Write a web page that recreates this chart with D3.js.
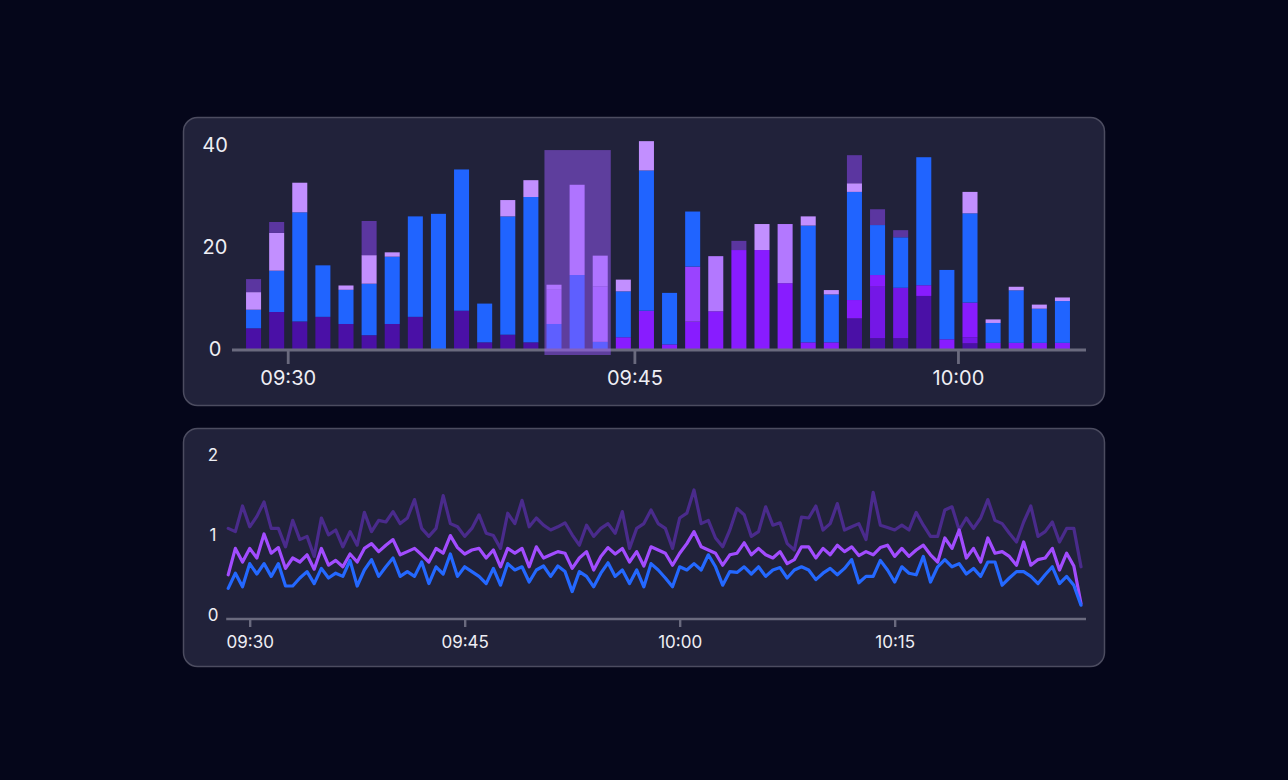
<!DOCTYPE html>
<html>
<head>
<meta charset="utf-8">
<script src="https://cdn.jsdelivr.net/npm/d3@7"></script>
<style>
html, body { margin: 0; background: #05061a; }
svg { display: block; font-family: Inter, "Noto Sans", sans-serif; }
</style>
</head>
<body>
<svg id="chart" width="1288" height="780"></svg>
<script>
// ---- top chart: one bar per minute bucket (09:59 bucket is missing)
const barTimes = ["09:28","09:29","09:30","09:31","09:32","09:33","09:34","09:35","09:36","09:37",
  "09:38","09:39","09:40","09:41","09:42","09:43","09:44","09:45","09:46","09:47",
  "09:48","09:49","09:50","09:51","09:52","09:53","09:54","09:55","09:56","09:57",
  "09:58","10:00","10:01","10:02","10:03","10:04"];
const barTicks = ["09:30", "09:45", "10:00"];

// stacked series, bottom to top
const indigo     = [4.25,7.45,5.6,6.5,5.1,2.9,5.1,6.5,0,7.7,1.5,3.0,1.5,0,0,0,0,0,0,0,0,0,0,0,0,0,6.2,2.3,2.3,10.6,0,1.3,0,0,0,0];
const violetDeep = [0,0,0,0,0,0,0,0,0,0,0,0,0,0,0,0,0,0,0,0,0,0,0,0,0,0,0,10.1,9.9,0,0,1.2,0,0,0,0];
const violet     = [0,0,0,0,0,0,0,0,0,0,0,0,0,0,0,0,2.5,7.7,1.1,5.55,7.6,19.6,19.6,13.1,1.5,1.5,3.6,2.3,0,2.1,2.1,6.8,1.4,1.4,1.4,1.4];
const violetSoft = [0,0,0,0,0,0,0,0,0,0,0,0,0,0,0,0,0,0,0,10.8,0,0,0,0,0,0,0,0,0,0,0,0,0,0,0,0];
const blue       = [3.65,8.1,21.4,10.1,6.7,10.1,13.2,19.7,26.7,27.7,7.6,23.2,28.5,5.1,14.7,1.6,9.0,27.5,10.1,10.8,0,0,0,0,22.9,9.4,21.2,9.8,9.9,25.1,13.6,17.5,3.9,10.3,6.7,8.2];
const lilac      = [0,0,0,0,0,0,0,0,0,0,0,0,0,6.7,0,10.9,0,0,0,0,10.8,0,0,11.6,0,0,0,0,0,0,0,0,0,0,0,0];
const lavender   = [3.45,7.4,5.8,0,0.85,5.6,0.85,0,0,0,0,3.2,3.3,1.0,17.7,6.0,2.3,5.75,0,0,0,0,5.1,0,1.8,0.85,1.7,0,0,0,0,4.2,0.7,0.7,0.8,0.7];
const muted      = [2.55,2.15,0,0,0,6.7,0,0,0,0,0,0,0,0,0,0,0,0,0,0,0,1.8,0,0,0,0,5.5,3.1,1.4,0,0,0,0,0,0,0];

const barSeries = ["indigo","violetDeep","violet","violetSoft","blue","lilac","lavender","muted"];
const barColors = ["#4a10a6","#7417e6","#881cff","#9a43ff","#2064ff","#b378ff","#c28fff","#5b36a0"];
const barYTicks = [0, 20, 40];

// selected range on the top chart
const selFrom = "09:41", selTo = "09:43", selTop = 39.2;

// ---- bottom chart: one point every 30 s from 09:28:30
const blueLine = [0.37,0.56,0.39,0.68,0.55,0.68,0.52,0.68,0.40,0.40,0.50,0.58,0.43,0.62,0.50,0.56,0.52,0.72,0.40,0.60,
  0.73,0.52,0.64,0.75,0.52,0.58,0.52,0.70,0.43,0.64,0.55,0.80,0.52,0.64,0.58,0.52,0.43,0.62,0.41,
  0.68,0.60,0.64,0.45,0.60,0.65,0.52,0.65,0.58,0.33,0.58,0.52,0.39,0.56,0.69,0.52,0.60,0.43,0.60,0.39,0.68,
  0.60,0.50,0.39,0.64,0.60,0.68,0.60,0.79,0.64,0.41,0.58,0.57,0.64,0.55,0.64,0.52,0.60,0.63,0.50,0.60,0.64,
  0.60,0.48,0.56,0.62,0.54,0.62,0.73,0.44,0.52,0.52,0.72,0.60,0.45,0.64,0.56,0.54,0.77,0.45,0.64,0.73,
  0.64,0.68,0.55,0.62,0.52,0.70,0.70,0.41,0.50,0.58,0.58,0.52,0.43,0.54,0.64,0.43,0.52,0.41,0.16];
const violetLine = [0.54,0.87,0.70,0.87,0.75,1.05,0.81,0.88,0.62,0.75,0.70,0.79,0.61,0.87,0.66,0.72,0.64,0.80,0.70,0.87,
  0.93,0.83,0.91,0.98,0.79,0.83,0.87,0.79,0.70,0.87,0.81,1.03,0.88,0.80,0.85,0.87,0.75,0.85,0.64,
  0.87,0.81,0.87,0.64,0.89,0.75,0.79,0.83,0.81,0.62,0.75,0.83,0.60,0.77,0.88,0.80,0.87,0.70,0.83,0.65,0.89,
  0.85,0.81,0.66,0.81,0.93,1.08,0.89,0.85,0.81,0.66,0.79,0.81,0.94,0.79,0.87,0.79,0.75,0.83,0.68,0.73,0.89,
  0.89,0.75,0.87,0.79,0.91,0.83,0.89,0.78,0.83,0.79,0.88,0.91,0.77,0.87,0.77,0.85,0.91,0.79,0.70,1.00,
  0.87,1.10,0.75,0.87,0.70,1.00,0.81,0.83,0.77,0.66,0.95,0.66,0.73,0.75,0.87,0.60,0.81,0.65,0.18];
const purpleLine = [1.12,1.08,1.40,1.14,1.27,1.45,1.12,1.12,0.89,1.22,0.98,1.02,0.77,1.25,1.04,1.10,0.89,1.08,0.91,1.32,
  1.08,1.22,1.20,1.33,1.18,1.25,1.48,1.12,1.02,1.12,1.53,1.18,1.14,1.02,1.12,1.29,1.06,1.03,0.87,
  1.31,1.18,1.47,1.14,1.25,1.16,1.10,1.14,1.19,1.04,0.91,1.16,1.02,1.12,1.18,1.06,1.33,0.87,1.12,1.18,1.35,
  1.18,1.12,0.87,1.25,1.31,1.60,1.18,1.22,1.00,0.89,1.10,1.37,1.29,1.02,1.08,1.39,1.16,1.19,0.93,0.85,1.26,
  1.25,1.40,1.10,1.18,1.43,1.10,1.14,1.18,0.98,1.57,1.16,1.13,1.10,1.16,1.10,1.32,1.16,1.02,1.02,1.35,
  1.39,1.10,1.25,1.12,1.25,1.48,1.22,1.18,1.06,0.95,1.20,1.40,1.02,1.08,1.20,0.95,1.12,1.12,0.64];
const lineStart = new Date(2024, 0, 1, 9, 28, 30);
const lineStepSec = 30;
const lineYTicks = [0, 1, 2];

const axisGray = "#6a6a7e";
const textColor = "#eeeef4";

const svg = d3.select("#chart");

// panels
svg.append("rect").attr("x", 183.5).attr("y", 117.5).attr("width", 921).attr("height", 288)
  .attr("rx", 14).attr("fill", "#21223a").attr("stroke", "#4c4c60").attr("stroke-width", 1.5);
svg.append("rect").attr("x", 183.5).attr("y", 428.5).attr("width", 921).attr("height", 238)
  .attr("rx", 14).attr("fill", "#21223a").attr("stroke", "#4c4c60").attr("stroke-width", 1.5);

// ===== top: stacked bars =====
const barRows = barTimes.map((t, i) => {
  const row = { t: t };
  const src = [indigo, violetDeep, violet, violetSoft, blue, lilac, lavender, muted];
  barSeries.forEach((k, j) => row[k] = src[j][i]);
  return row;
});
const stacked = d3.stack().keys(barSeries)(barRows);

const xb = d3.scaleBand().domain(barTimes).range([242, 1074]).paddingInner(0.35).paddingOuter(0.175);
const yb = d3.scaleLinear().domain([0, 40]).range([350, 146]);

const topG = svg.append("g");
topG.selectAll("g.layer").data(stacked).join("g")
  .attr("class", "layer")
  .attr("fill", (d, i) => barColors[i])
  .selectAll("rect").data(d => d.filter(s => s[1] - s[0] > 0)).join("rect")
  .attr("x", d => xb(d.data.t))
  .attr("width", xb.bandwidth())
  .attr("y", d => yb(d[1]))
  .attr("height", d => yb(d[0]) - yb(d[1]));

// axis line + ticks
const gap = xb.step() * xb.paddingInner() / 2;
topG.append("line").attr("x1", xb.range()[0] - 10).attr("x2", xb.range()[1] + 12)
  .attr("y1", yb(0)).attr("y2", yb(0)).attr("stroke", axisGray).attr("stroke-width", 2.8);
const tb = topG.selectAll("g.xt").data(barTicks).join("g").attr("class", "xt")
  .attr("transform", d => `translate(${xb(d) - gap},${yb(0)})`);
tb.append("line").attr("y1", 0).attr("y2", 14).attr("stroke", axisGray).attr("stroke-width", 2.8);
tb.append("text").attr("y", 27.5).attr("text-anchor", "middle").attr("dominant-baseline", "central")
  .attr("fill", textColor).attr("font-size", 20).text(d => d);

topG.selectAll("text.yt").data(barYTicks).join("text").attr("class", "yt")
  .attr("x", 215).attr("y", d => yb(d) - 1)
  .attr("text-anchor", "middle").attr("dominant-baseline", "central")
  .attr("fill", textColor).attr("font-size", 20).text(d => d);

// selection overlay
topG.append("rect")
  .attr("x", xb(selFrom) - gap + 2)
  .attr("width", xb(selTo) + xb.bandwidth() + gap - 1 - (xb(selFrom) - gap + 2))
  .attr("y", yb(selTop))
  .attr("height", yb(0) + 5 - yb(selTop))
  .attr("fill", "#9b59ff").attr("fill-opacity", 0.5);

// ===== bottom: lines =====
const times = blueLine.map((_, i) => new Date(lineStart.getTime() + i * lineStepSec * 1000));
const xl = d3.scaleTime().domain([times[0], times[times.length - 1]]).range([228.2, 1081]);
const yl = d3.scaleLinear().domain([0, 2]).range([618, 458]);

const bottomG = svg.append("g");
bottomG.append("line").attr("x1", xl.range()[0] - 2).attr("x2", xl.range()[1] + 5)
  .attr("y1", yl(0) + 1).attr("y2", yl(0) + 1).attr("stroke", axisGray).attr("stroke-width", 2.4);

const xAxis = d3.axisBottom(xl)
  .ticks(d3.timeMinute.every(15))
  .tickFormat(d3.timeFormat("%H:%M"))
  .tickSize(8).tickPadding(9);
const gx = bottomG.append("g").attr("transform", `translate(0,${yl(0) + 1})`).call(xAxis);
gx.select(".domain").remove();
gx.selectAll(".tick line").attr("stroke", axisGray).attr("stroke-width", 2.4);
gx.selectAll(".tick text").attr("fill", textColor).attr("font-size", 17)
  .attr("font-family", "Inter, 'Noto Sans', sans-serif");

bottomG.selectAll("text.yt").data(lineYTicks).join("text").attr("class", "yt")
  .attr("x", 213).attr("y", d => yl(d) - 3)
  .attr("text-anchor", "middle").attr("dominant-baseline", "central")
  .attr("fill", textColor).attr("font-size", 17).text(d => d);

const lineGen = d3.line().x((d, i) => xl(times[i])).y(d => yl(d));
const lines = [
  { v: purpleLine, c: "#4a2b8c" },
  { v: violetLine, c: "#a24cff" },
  { v: blueLine, c: "#2468ff" }
];
bottomG.selectAll("path.ln").data(lines).join("path").attr("class", "ln")
  .attr("d", d => lineGen(d.v))
  .attr("fill", "none").attr("stroke", d => d.c)
  .attr("stroke-width", 3.2).attr("stroke-linejoin", "round").attr("stroke-linecap", "round");
</script>
</body>
</html>
